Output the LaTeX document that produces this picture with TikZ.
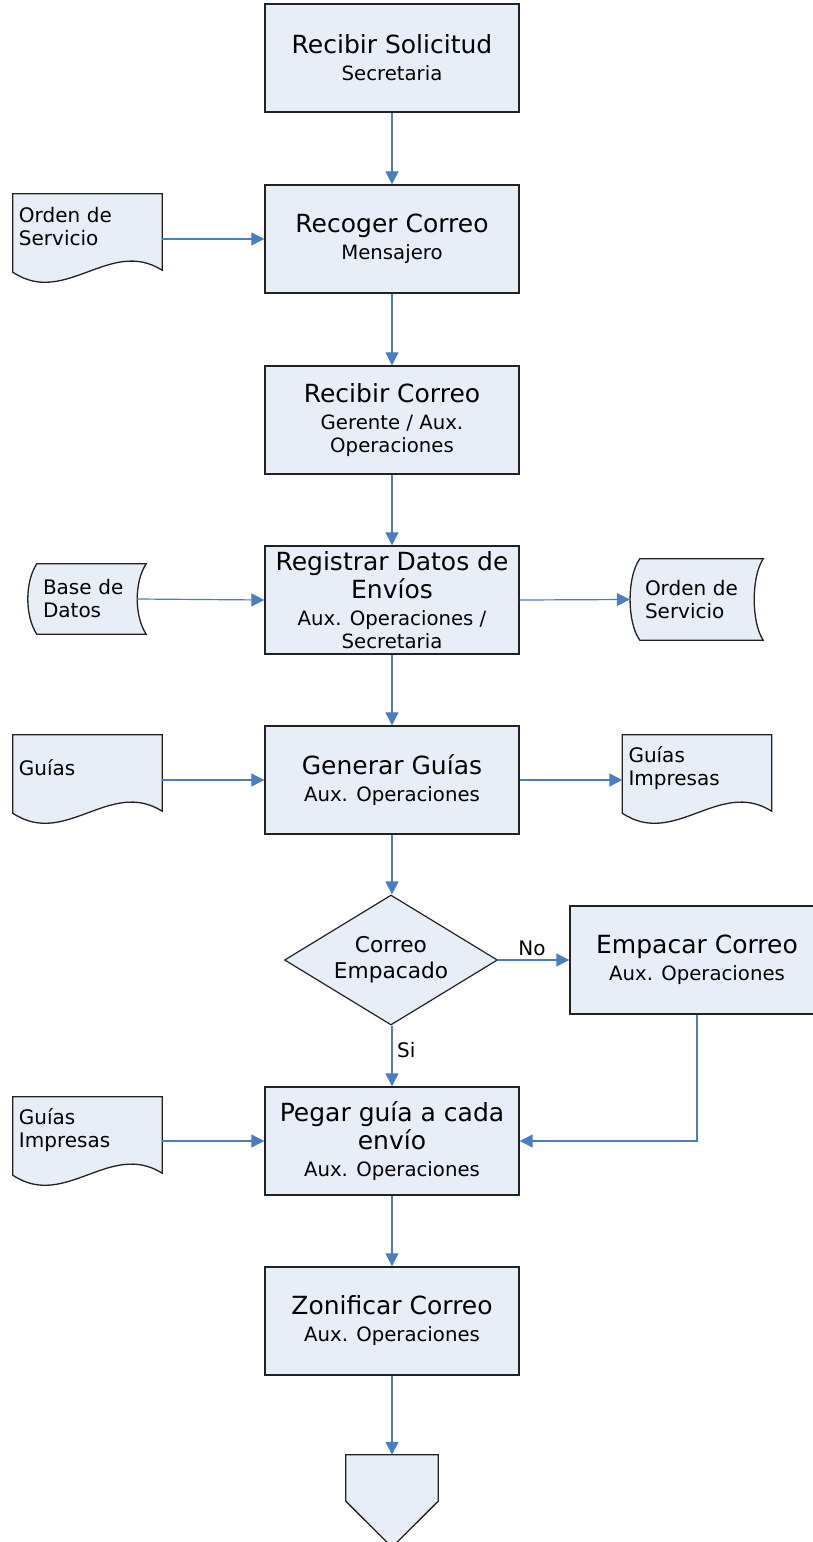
\documentclass[tikz,border=0pt]{standalone}
\usepackage{fontspec}
\setmainfont{DejaVu Sans}
\usetikzlibrary{arrows.meta,calc,shapes.geometric,backgrounds}

\definecolor{boxfill}{RGB}{232,238,247}
\definecolor{flowblue}{RGB}{74,126,193}
\definecolor{edgegray}{RGB}{34,34,34}

\newcommand\boxtitle{\fontsize{25}{28.5}\selectfont}
\newcommand\boxrole{\fontsize{19.7}{23}\selectfont}
\newcommand\smalllabel{\fontsize{20}{23}\selectfont}
\newcommand\asklabel{\fontsize{21.7}{26}\selectfont}

% document symbol: flat top, wavy bottom (drawn 6pt below its text node)
\newcommand\docshape[1]{%
  \begin{pgfonlayer}{background}
  \draw[shapeline]
    ($(#1.north west)+(0,6)$) -- ($(#1.north east)+(0,6)$) -- ($(#1.south east)+(0,4)$)
    .. controls ($(#1.south east)!0.35!(#1.south west)+(0,-29)$)
            and ($(#1.south east)!0.65!(#1.south west)+(0,41)$) ..
    ($(#1.south west)+(0,6)$) -- cycle;
  \end{pgfonlayer}}

% stored data symbol: convex left side, concave right side
\newcommand\storeshape[2]{%
  \begin{pgfonlayer}{background}
  \draw[shapeline]
    ($(#1.north west)+(#2,0)$) -- (#1.north east)
    .. controls ($(#1.north east)+(-12,18)$) and ($(#1.south east)+(-12,-18)$) ..
    (#1.south east) -- ($(#1.south west)+(#2,0)$)
    .. controls ($(#1.south west)+(-3,-18)$) and ($(#1.north west)+(-3,18)$) ..
    cycle;
  \end{pgfonlayer}}

\begin{document}
\begin{tikzpicture}[x=1pt,y=-1pt,
  shapeline/.style={draw=edgegray,line width=1.3pt,fill=boxfill,line join=miter},
  procbox/.style={rectangle,draw=edgegray,line width=1.4pt,fill=boxfill,
    minimum width=254pt,minimum height=108pt,inner sep=0pt,align=center,font=\boxtitle},
  askbox/.style={diamond,draw=edgegray,line width=1.2pt,fill=boxfill,shape aspect=1.64,
    minimum width=213pt,minimum height=130pt,inner sep=0pt,align=center,font=\asklabel},
  docbox/.style={rectangle,inner sep=0pt,minimum width=149pt,minimum height=78pt,
    text width=137pt,align=left,font=\smalllabel},
  storebox/.style={rectangle,inner sep=0pt,align=left,font=\smalllabel},
  flow/.style={draw=flowblue,line width=1.2pt,-{Triangle[length=13pt,width=13pt]}},
  flowlabel/.style={font=\smalllabel,inner sep=0pt}]

\useasboundingbox (0,0) rectangle (812,1542);

% main process column
\node[procbox] (solicitud) at (392,58) {Recibir Solicitud\\[-1.5pt]{\boxrole Secretaria}};
\node[procbox] (recoger) at (392,239) {Recoger Correo\\[-1.5pt]{\boxrole Mensajero}};
\node[procbox] (recibir) at (392,420) {Recibir Correo\\[-1.5pt]{\boxrole Gerente / Aux.}\\[-5.5pt]{\boxrole Operaciones}};
\node[procbox] (registrar) at (392,600) {Registrar Datos de\\Envíos\\[-1.5pt]{\boxrole Aux. Operaciones /}\\[-5.5pt]{\boxrole Secretaria}};
\node[procbox] (generar) at (392,780) {Generar Guías\\[-1.5pt]{\boxrole Aux. Operaciones}};
\node[askbox] (empacado) at (391,960) {Correo\\Empacado};
\node[procbox] (empacar) at (697,960) {Empacar Correo\\[-1.5pt]{\boxrole Aux. Operaciones}};
\node[procbox] (pegar) at (392,1141) {Pegar guía a cada\\envío\\[-1.5pt]{\boxrole Aux. Operaciones}};
\node[procbox] (zonificar) at (392,1321) {Zonificar Correo\\[-1.5pt]{\boxrole Aux. Operaciones}};

% off-page connector
\node[rectangle,inner sep=0pt,minimum width=92pt,minimum height=46pt] (salida) at (392,1478) {};
\begin{pgfonlayer}{background}
\draw[shapeline] (salida.north west) -- (salida.north east) -- (salida.south east)
  -- ($(salida.south)+(0,46)$) -- (salida.south west) -- cycle;
\end{pgfonlayer}

% documents
\node[docbox] (orden1) at (87.5,227) {Orden de\\Servicio};
\docshape{orden1}
\node[docbox] (guias) at (87.5,768) {Guías};
\docshape{guias}
\node[docbox] (impresas1) at (697,768) {Guías\\Impresas};
\docshape{impresas1}
\node[docbox] (impresas2) at (87.5,1130) {Guías\\Impresas};
\docshape{impresas2}

% stored data
\node[storebox,minimum width=118pt,minimum height=70pt,text width=88pt] (base) at (87,599) {Base de\\Datos};
\storeshape{base}{9}
\node[storebox,minimum width=133pt,minimum height=81pt,text width=103pt] (orden2) at (696.5,599.5) {Orden de\\Servicio};
\storeshape{orden2}{10}

% connectors
\draw[flow] (solicitud) -- (recoger);
\draw[flow] (recoger) -- (recibir);
\draw[flow] (recibir) -- (registrar);
\draw[flow] (registrar) -- (generar);
\draw[flow] (generar.south) -- (generar.south |- empacado.north);
\draw[flow] (empacado.south -| pegar.north) -- (pegar.north);
\draw[flow] (pegar) -- (zonificar);
\draw[flow] (zonificar) -- (salida.north);

\draw[flow] (orden1.east |- recoger.west) -- (recoger.west);
\draw[flow] ($(base.east)+(-9,0)$) -- (registrar.west);
\draw[flow] (registrar.east) -- (orden2.west);
\draw[flow] (guias.east |- generar.west) -- (generar.west);
\draw[flow] (generar.east) -- (impresas1.west |- generar.east);
\draw[flow] (impresas2.east |- pegar.west) -- (pegar.west);

\draw[flow] (empacado.east) -- (empacar.west);
\draw[flow] (empacar.south) |- (pegar.east);

\node[flowlabel] (nolabel) at (532,948) {No};
\node[flowlabel,anchor=west] (silabel) at (397,1050) {Si};
\end{tikzpicture}
\end{document}
